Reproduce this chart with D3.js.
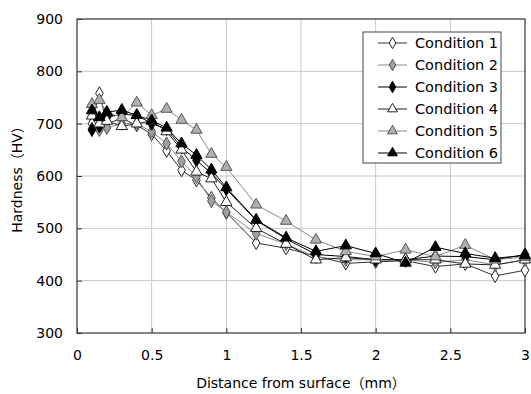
<!DOCTYPE html>
<html>
<head>
<meta charset="utf-8">
<script src="https://cdn.jsdelivr.net/npm/d3@7"></script>
<style>
  body { margin: 0; background: #fff; }
  text { font-family: "DejaVu Sans", "Noto Sans CJK JP", sans-serif; fill: #000; }
</style>
</head>
<body>
<div id="chart"></div>
<script>
const width = 531, height = 394;
const margin = {top: 19, right: 6, bottom: 61, left: 77};

const distances = [0.1, 0.15, 0.2, 0.3, 0.4, 0.5, 0.6, 0.7, 0.8, 0.9, 1.0, 1.2, 1.4, 1.6, 1.8, 2.0, 2.2, 2.4, 2.6, 2.8, 3.0];

const cond1 = [700, 758, 700, 710, 697, 680, 648, 611, 592, 558, 530, 472, 462, 447, 433, 436, 438, 427, 432, 409, 420];
const cond2 = [690, 688, 692, 700, 700, 685, 662, 628, 598, 552, 531, 490, 470, 445, 440, 440, 440, 435, 440, 430, 440];
const cond3 = [688, 695, 712, 718, 716, 700, 690, 655, 630, 605, 575, 515, 480, 450, 446, 440, 440, 447, 446, 440, 450];
const cond4 = [715, 700, 705, 695, 700, 705, 685, 650, 608, 595, 550, 500, 470, 440, 444, 440, 440, 440, 432, 430, 440];
const cond5 = [737, 745, 722, 712, 740, 716, 728, 707, 688, 642, 617, 545, 514, 478, 456, 446, 459, 446, 468, 440, 445];
const cond6 = [725, 712, 722, 726, 716, 706, 692, 662, 640, 612, 578, 516, 482, 456, 467, 452, 434, 464, 452, 443, 448];

const seriesNames = ["Condition 1", "Condition 2", "Condition 3", "Condition 4", "Condition 5", "Condition 6"];
const seriesValues = [cond1, cond2, cond3, cond4, cond5, cond6];

const xTicks = [0, 0.5, 1, 1.5, 2, 2.5, 3];
const yTicks = [300, 400, 500, 600, 700, 800, 900];

// marker style per series
const styles = [
  {shape: d3.symbolDiamond, fill: "#fff", stroke: "#222", line: "#333", size: 50},
  {shape: d3.symbolDiamond, fill: "#a0a0a0", stroke: "#555", line: "#8a8a8a", size: 50},
  {shape: d3.symbolDiamond, fill: "#000", stroke: "#000", line: "#000", size: 50},
  {shape: d3.symbolTriangle, fill: "#fff", stroke: "#222", line: "#222", size: 55},
  {shape: d3.symbolTriangle, fill: "#b0b0b0", stroke: "#555", line: "#8a8a8a", size: 55},
  {shape: d3.symbolTriangle, fill: "#000", stroke: "#000", line: "#000", size: 55}
];

const x = d3.scaleLinear().domain([0, 3]).range([margin.left, width - margin.right]);
const y = d3.scaleLinear().domain([300, 900]).range([height - margin.bottom, margin.top]);

const svg = d3.select("#chart").append("svg")
  .attr("width", width).attr("height", height);

// gridlines
svg.append("g")
  .selectAll("line")
  .data(yTicks.slice(1, -1))
  .join("line")
  .attr("x1", x(0)).attr("x2", x(3))
  .attr("y1", d => y(d)).attr("y2", d => y(d))
  .attr("stroke", "#c8c8c8").attr("stroke-width", 1);

svg.append("g")
  .selectAll("line")
  .data(xTicks.slice(1, -1))
  .join("line")
  .attr("x1", d => x(d)).attr("x2", d => x(d))
  .attr("y1", y(300)).attr("y2", y(900))
  .attr("stroke", "#c8c8c8").attr("stroke-width", 1);

// inward ticks
const xAxis = svg.append("g")
  .attr("transform", `translate(0,${y(300)})`)
  .call(d3.axisBottom(x).tickValues(xTicks).tickSize(-5).tickPadding(17).tickFormat(d3.format("")));
const yAxis = svg.append("g")
  .attr("transform", `translate(${x(0)},0)`)
  .call(d3.axisLeft(y).tickValues(yTicks).tickSize(-5).tickPadding(14));

[xAxis, yAxis].forEach(g => {
  g.select(".domain").remove();
  g.selectAll(".tick line").attr("stroke", "#333");
  g.selectAll(".tick text").attr("font-size", 14).attr("fill", "#000")
    .style("font-family", "'DejaVu Sans', sans-serif");
});

// plot border
svg.append("rect")
  .attr("x", x(0)).attr("y", y(900))
  .attr("width", x(3) - x(0)).attr("height", y(300) - y(900))
  .attr("fill", "none").attr("stroke", "#333").attr("stroke-width", 1.2);

// series
const line = d3.line().x((d, i) => x(distances[i])).y(d => y(d));

seriesValues.forEach((vals, k) => {
  const st = styles[k];
  svg.append("path")
    .datum(vals)
    .attr("d", line)
    .attr("fill", "none")
    .attr("stroke", st.line)
    .attr("stroke-width", 1);
});

seriesValues.forEach((vals, k) => {
  const st = styles[k];
  svg.append("g")
    .selectAll("path")
    .data(vals)
    .join("path")
    .attr("transform", (d, i) => `translate(${x(distances[i])},${y(d)})`)
    .attr("d", d3.symbol().type(st.shape).size(st.size))
    .attr("fill", st.fill)
    .attr("stroke", st.stroke)
    .attr("stroke-width", 1);
});

// legend
const legend = svg.append("g").attr("transform", "translate(363,32)");
legend.append("rect")
  .attr("width", 138).attr("height", 131)
  .attr("fill", "#fff").attr("stroke", "#444").attr("stroke-width", 1);

seriesNames.forEach((name, k) => {
  const st = styles[k];
  const yy = 11 + k * 22;
  legend.append("line")
    .attr("x1", 15).attr("x2", 44).attr("y1", yy).attr("y2", yy)
    .attr("stroke", st.line).attr("stroke-width", 1);
  legend.append("path")
    .attr("transform", `translate(29.5,${yy})`)
    .attr("d", d3.symbol().type(st.shape).size(st.size * 0.75))
    .attr("fill", st.fill).attr("stroke", st.stroke).attr("stroke-width", 1);
  legend.append("text")
    .attr("x", 52).attr("y", yy).attr("dy", "0.35em")
    .attr("font-size", 14.5)
    .text(name);
});

// axis titles
svg.append("text")
  .attr("x", (x(0) + x(3)) / 2).attr("y", 388)
  .attr("text-anchor", "middle").attr("font-size", 14)
  .text("Distance from surface（mm）");

svg.append("text")
  .attr("transform", `translate(22,${(y(300) + y(900)) / 2}) rotate(-90)`)
  .attr("text-anchor", "middle").attr("font-size", 14)
  .text("Hardness（HV）");
</script>
</body>
</html>
